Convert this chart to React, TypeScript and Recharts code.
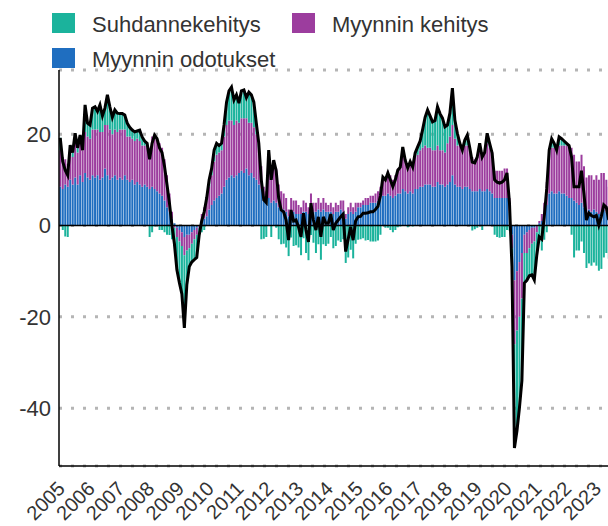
import React from 'react';
import {
  ComposedChart,
  Bar,
  Line,
  XAxis,
  YAxis,
  CartesianGrid,
  ReferenceLine,
} from 'recharts';

const TEAL = '#1BB39C';
const PURPLE = '#9C3D9E';
const BLUE = '#1F6EC0';
const FONT = '"Liberation Sans", Arial, Helvetica, sans-serif';

const years = [
  2005, 2006, 2007, 2008, 2009, 2010, 2011, 2012, 2013, 2014,
  2015, 2016, 2017, 2018, 2019, 2020, 2021, 2022, 2023,
];

// Myynnin odotukset (monthly, from 2005-01)
const blue = [
  8.5, 8, 9, 8.5, 10, 9, 10.5, 9, 11, 9.5, 11.5, 10.5, // 2005
  10, 11, 10.5, 11, 10, 10.5, 12.5, 11, 10, 10.5, 11, 10, // 2006
  10.5, 10, 11, 10, 9.5, 10, 9, 9.5, 9, 8.5, 9, 8.5, // 2007
  8, 8.5, 8, 7.5, 7, 6.5, 5.5, 4, 3, 1.5, 0.5, -0.5, // 2008
  -1, -1.5, -2.5, -2, -2, -1.5, -1, -0.5, 0, 1, 1.5, 2, // 2009
  3.5, 4.5, 5.5, 6, 6.5, 7, 8.5, 10, 10.5, 11, 10.5, 11, // 2010
  11.5, 12, 11.5, 12.5, 11, 11.5, 10.5, 10, 9, 8, 6.5, 6, // 2011
  6, 5, 5.5, 5, 4, 3.5, 3.5, 3, 2, 3, 3, 2.5, // 2012
  2.5, 2.5, 3, 3, 2.5, 3.5, 3, 3, 3.5, 3, 3.5, 3, // 2013
  3, 3, 2.5, 3, 3, 3.5, 3, 1.5, 2.5, 3, 2.5, 3, // 2014
  4, 4, 4.5, 4.5, 4.5, 5, 5, 5, 5.5, 6, 6.5, 6.5, // 2015
  7, 6.5, 6, 6.5, 7, 7, 8, 7.5, 7, 7.5, 7, 8, // 2016
  8, 8.5, 8.5, 9, 9, 9, 8.5, 8.5, 9.5, 9, 9, 8.5, // 2017
  9, 9.5, 11, 9, 8.5, 8.5, 8, 8.5, 8.5, 8, 7.5, 7.5, // 2018
  7.5, 8, 7.5, 7.5, 8, 7.5, 7, 6, 6, 6, 6, 6, // 2019
  6, 3, -2, -12, -10, -8, -6, -2, -1.5, -1, -0.5, -0.5, // 2020
  0, 0.5, 1, 2.5, 4.5, 7, 7.5, 7, 7, 7.5, 7, 7, // 2021
  6.5, 6, 6, 5.5, 5, 4.5, 5, 4, 3, 3.5, 3, 3.5, // 2022
  3, 2.5, 3, 3.5, 3, 2.5, // 2023
];

// Myynnin kehitys
const purple = [
  8, 7, 5.5, 5, 6.5, 6, 7.5, 7, 7.5, 7, 9, 9,
  9, 10, 10.5, 10, 10.5, 10, 9.5, 11, 11, 9.5, 10, 10.5,
  10.5, 11, 10, 9.5, 10, 9, 9.5, 9.5, 9.5, 9, 8.5, 8.5,
  9, 11, 12, 11.5, 11, 10.5, 9, 7, 4, 1.5, -0.5, -2,
  -2.5, -3, -4, -3.5, -3, -2.5, -2, -1.5, -0.5, 1.5, 2.5, 3.5,
  5, 6.5, 8.5, 9.5, 9.5, 9.5, 11, 12, 12.5, 12, 11.5, 12,
  11, 11.5, 12, 11, 11.5, 11, 11, 10, 8, 5, 2, 1.5,
  8.5, 7.5, 8, 7.5, 5, 4, 3.5, 3, 1.5, 3, 2.5, 3,
  2, 1.5, 2.5, 2, 1.5, 3.5, 2, 2, 2.5, 2, 2.5, 2,
  1.5, 2, 1.5, 2, 1.5, 2, 2.5, 1, 1.5, 2, 1.5, 2,
  1, 1, 1, 1.5, 1.5, 1.5, 1.5, 2, 2, 2.5, 3.5, 4,
  5, 4.5, 4, 4.5, 5.5, 6, 8, 6.5, 6, 6.5, 6, 7,
  7.5, 8, 8.5, 8.5, 8, 8, 8, 8, 8, 7.5, 7.5, 7.5,
  9, 10, 11, 10, 9, 9, 8.5, 9, 9, 8.5, 7.5, 7,
  8, 9, 8.5, 8.5, 10, 9.5, 9, 6, 6, 6, 6, 6.5,
  6.5, 3, -3, -14, -13, -12, -10, -4, -4.5, -4, -3.5, -3,
  -1.5, 0.5, 1.5, 2.5, 5, 9, 9.5, 10, 9.5, 10, 10.5, 10.5,
  11, 11.5, 11, 10, 9, 9.5, 10.5, 9, 7.5, 7.5, 8, 6.5,
  8, 7.5, 8.5, 8, 7, 6,
];

// Suhdannekehitys
const teal = [
  2.7, -1, -2.4, -2.5, 1.1, 1, 2.2, 1, 1.3, 0, 5.9, 2.9,
  3, 4.7, 5, 4, 5.9, 3.5, 3.7, 6.6, 5, 3.7, 4.3, 4.1,
  3.5, 3.5, 3.2, 2.9, 2, 1.9, 2, 1.7, 2.4, 1.9, 1, 1,
  -2.5, -1.5, -0.2, 0, -1, -1, -1.5, -2, -2.1, -3, -4, -7.2,
  -9, -10.5, -15.9, -7.5, -4, -4, -4.5, -5, -1.5, -1.5, -1, 0.5,
  1.5, 1.5, 2.5, 2.5, 1.5, 1.5, 2.5, 5, 6.5, 7.3, 5.5, 5.6,
  4.3, 6, 6.2, 4.5, 6.7, 6.1, 5.5, 2.4, 1, -3, -2.9, -2.5,
  2, -2.5, 0.8, -0.5, -3, -4.1, -4, -4.8, -6.7, -2.6, -4.5, -4.3,
  -4.8, -6.5, -2.8, -6, -7.6, -2.1, -3.8, -6, -4.1, -7.5, -4.1, -4.5,
  -4, -2.5, -5, -4.5, -3.3, -3.6, -3, -8.2, -7, -5.3, -7.2, -4,
  -3.1, -3, -2.8, -3.3, -3.2, -3.5, -3.5, -3.5, -3.3, -2, 0.6, -0.5,
  -0.5, -1, -1.5, -1, -0.4, -0.2, 1.2, 0.3, -0.4, 0, -0.2, 0.9,
  1.7, 2, 4, 6.2, 8.3, 7, 6.2, 6.5, 8.5, 8, 7, 5.6,
  4, 5.1, 8.1, 4.1, 2.7, 0.5, 0, 1.2, 2.3, 0.5, -1.1, -0.8,
  -0.5, 1, -1, 0, 2.2, 1, -0.1, -2, -2.5, -2.7, -2.5, -2.5,
  -1, -1.1, -4, -22.7, -22, -20, -18, -6.6, -6, -6, -6.8, -8.4,
  -5, -3.5, -5.5, -3.1, -1.5, 0.5, 2, 1, 0, 1.9, 1.5, 1,
  0.5, 0, -2, -7, -5.5, -5.5, -3.5, -6, -9.3, -8.3, -8.8, -8.1,
  -8.8, -9.9, -9.5, -7, -6, -7.3,
];

// Kokonaisindikaattori (musta viiva)
const total = [
  19.2, 14, 12.1, 11, 17.6, 16, 20.2, 17, 19.8, 16.5, 26.4, 22.4,
  22, 25.7, 26, 25, 26.4, 24, 25.7, 28.6, 26, 23.7, 25.3, 24.6,
  24.5, 24.5, 24.2, 22.4, 21.5, 20.9, 20.5, 20.7, 20.9, 19.4, 18.5, 18,
  14.5, 18, 19.8, 19, 17, 16, 13, 9, 4.9, 0, -4, -9.7,
  -12.5, -15, -22.4, -13, -9, -8, -7.5, -7, -2, 1, 3, 6,
  10, 12.5, 16.5, 18, 17.5, 18, 22, 27, 29.5, 30.3, 27.5, 28.6,
  26.8, 29.5, 29.7, 28, 29.2, 28.6, 27, 22.4, 18, 10, 5.6, 5,
  16.5, 10, 14.3, 12, 6, 3.4, 3, 1.2, -3.2, 3.4, 1, 1.2,
  -0.3, -2.5, 2.7, -1, -3.6, 4.9, 1.2, -1, 1.9, -2.5, 1.9, 0.5,
  0.5, 2.5, -1, 0.5, 1.2, 1.9, 2.5, -5.7, -3, -0.3, -3.2, 1,
  1.9, 2, 2.7, 2.7, 2.8, 3, 3, 3.5, 4.2, 6.5, 10.6, 10,
  11.5, 10, 8.5, 10, 12.1, 12.8, 17.2, 14.3, 12.6, 14, 12.8, 15.9,
  17.2, 18.5, 21, 23.7, 25.3, 24, 22.7, 23, 26, 24.5, 23.5, 21.6,
  22, 24.6, 30.1, 23.1, 20.2, 18, 16.5, 18.7, 19.8, 17, 13.9, 13.7,
  15, 18, 15, 16, 20.2, 18, 15.9, 10, 9.5, 9.3, 9.5, 10,
  11.5, 4.9, -9, -48.7, -45, -40, -34, -12.6, -12, -11, -10.8, -11.9,
  -6.5, -2.5, -3, 1.9, 8, 16.5, 19, 18, 16.5, 19.4, 19, 18.5,
  18, 17.5, 15, 8.5, 8.5, 8.5, 12, 7, 1.2, 2.7, 2.2, 1.9,
  2.2, 0.1, 2, 4.5, 4, 1.2,
];

const data = total.map((t, i) => ({
  month: `${years[Math.floor(i / 12)]}-${String((i % 12) + 1).padStart(2, '0')}`,
  blue: blue[i],
  purple: purple[i],
  teal: teal[i],
  total: t,
}));

const yearTicks = years.map((y) => `${y}-01`);

const YearTick = ({ x, y, payload }: { x?: number; y?: number; payload?: { value: string } }) => (
  <g transform={`translate(${(x ?? 0) + 6},${(y ?? 0) + 16}) rotate(-45)`}>
    <text x={0} y={0} textAnchor="end" fontSize={20} fill="#333" fontFamily={FONT}>
      {String(payload?.value).slice(0, 4)}
    </text>
  </g>
);

const legendItems = [
  { label: 'Suhdannekehitys', color: TEAL, left: 52, top: 13 },
  { label: 'Myynnin kehitys', color: PURPLE, left: 292, top: 13 },
  { label: 'Myynnin odotukset', color: BLUE, left: 52, top: 48 },
];

export default function App() {
  return (
    <div
      style={{
        position: 'absolute',
        left: 0,
        top: 0,
        width: 608,
        height: 526,
        overflow: 'hidden',
        background: '#fff',
        fontFamily: FONT,
      }}
    >
      <ComposedChart
        width={612}
        height={526}
        data={data}
        stackOffset="sign"
        barCategoryGap="12%"
        margin={{ top: 70, right: 2, bottom: 0, left: 0 }}
      >
        <CartesianGrid vertical={false} stroke="#b5b5b5" strokeDasharray="3 9" strokeWidth={3} />
        <XAxis
          dataKey="month"
          ticks={yearTicks}
          interval={0}
          height={60}
          tickLine={false}
          axisLine={{ stroke: '#000', strokeWidth: 1.5 }}
          tick={<YearTick />}
        />
        <YAxis
          type="number"
          width={59}
          domain={[-52.66, 34.05]}
          ticks={[-40, -20, 0, 20]}
          allowDataOverflow
          tickLine={false}
          axisLine={{ stroke: '#000', strokeWidth: 1.5 }}
          tick={{ fontSize: 22, fill: '#333', fontFamily: FONT }}
        />
        <Bar dataKey="blue" stackId="a" fill={BLUE} isAnimationActive={false} />
        <Bar dataKey="purple" stackId="a" fill={PURPLE} isAnimationActive={false} />
        <Bar dataKey="teal" stackId="a" fill={TEAL} isAnimationActive={false} />
        <ReferenceLine y={0} stroke="#000" strokeWidth={1.5} />
        <Line
          type="linear"
          dataKey="total"
          stroke="#000"
          strokeWidth={3}
          dot={false}
          isAnimationActive={false}
        />
      </ComposedChart>

      {legendItems.map((item) => (
        <React.Fragment key={item.label}>
          <div
            style={{
              position: 'absolute',
              left: item.left,
              top: item.top,
              width: 23,
              height: 20,
              background: item.color,
            }}
          />
          <div
            style={{
              position: 'absolute',
              left: item.left + 40,
              top: item.top + 0.5,
              fontSize: 22,
              lineHeight: '22px',
              color: '#333',
              whiteSpace: 'nowrap',
            }}
          >
            {item.label}
          </div>
        </React.Fragment>
      ))}
    </div>
  );
}
